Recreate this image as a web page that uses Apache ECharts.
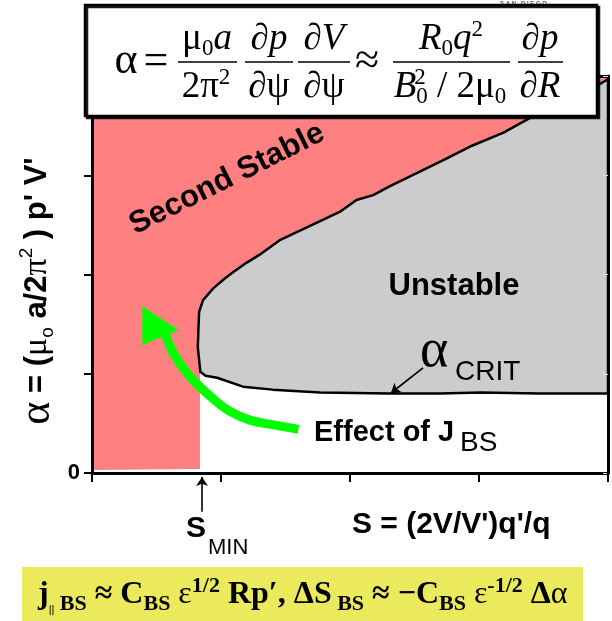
<!DOCTYPE html>
<html><head><meta charset="utf-8">
<script src="https://cdn.jsdelivr.net/npm/echarts@6/dist/echarts.min.js"></script>
<style>html,body{margin:0;padding:0;background:#fff}#c{width:612px;height:621px}</style>
</head><body><div id="c"></div>
<script>
// ---- axis ticks ----
const sTicks = [0, 1, 2, 3, 4];
const alphaTickLabels = ['0', '', '', '', ''];
// ---- Unstable region: lower edge (alpha_crit), right -> left ----
const critS = [4.00, 3.47, 3.01, 2.70, 2.31, 1.77, 1.40, 1.17, 0.97, 0.88, 0.84];
const critA = [0.80, 0.80, 0.81, 0.80, 0.80, 0.81, 0.84, 0.87, 0.96, 0.98, 1.02];
// ---- Unstable region: left / upper boundary, bottom -> top ----
const bndS = [0.82, 0.83, 0.86, 0.94, 1.02, 1.09, 1.20, 1.30, 1.46, 1.69, 1.92, 2.05, 2.18, 2.31, 2.72, 2.95, 3.19, 3.40, 3.63, 3.86, 3.99, 4.00];
const bndA = [1.27, 1.62, 1.74, 1.86, 1.95, 2.02, 2.12, 2.20, 2.35, 2.49, 2.63, 2.75, 2.80, 2.89, 3.15, 3.30, 3.43, 3.58, 3.73, 3.86, 3.96, 3.97];
// ---- Second stable region: lower rectangle corners and top corners ----
const stableLowS = [0.016, 0.837, 0.837];
const stableLowA = [0.03, 0.04, 1.02];
const stableTopS = [4.00, 0.016];
const stableTopA = [4.00, 4.00];
// ---- Effect of J_BS arrow ----
const jbsS = [1.60, 1.43, 1.23, 1.07, 0.92, 0.76, 0.63, 0.57];
const jbsA = [0.44, 0.48, 0.53, 0.62, 0.77, 0.97, 1.21, 1.40];
const headS = [0.39, 0.67, 0.39];
const headA = [1.68, 1.44, 1.29];
// ---- pointer arrows ----
const critArrowS = [2.566, 2.318];
const critArrowA = [1.058, 0.806];
const sminArrowS = [0.853, 0.853];
const sminArrowA = [-0.39, -0.04];

const zip = (a, b) => a.map((v, i) => [v, b[i]]);
const unstablePoly = zip(critS, critA).concat(zip(bndS, bndA));
const stablePoly = zip(stableLowS, stableLowA).concat(zip(bndS, bndA)).concat(zip(stableTopS, stableTopA));

function polySeries(points, style, z) {
  return {
    type: 'custom', z: z, silent: true, clip: false,
    data: [[0, 0]],
    renderItem: (params, api) => ({
      type: 'polygon',
      shape: { points: points.map(p => api.coord(p)) },
      style: style
    })
  };
}

const SANS = '"Liberation Sans", Arial, sans-serif';
const SERIF = '"Liberation Serif", "Times New Roman", serif';

const chart = echarts.init(document.getElementById('c'), null, { renderer: 'canvas' });

const axisLine = { show: true, onZero: false, lineStyle: { color: '#000', width: 3 } };
const eqRich = {
  n: { fontFamily: SERIF, fontSize: 37, lineHeight: 42, verticalAlign: 'middle', fill: '#000' },
  i: { fontFamily: SERIF, fontStyle: 'italic', fontSize: 37, lineHeight: 42, verticalAlign: 'middle', fill: '#000' },
  big: { fontFamily: SERIF, fontSize: 44, lineHeight: 42, verticalAlign: 'middle', fill: '#000' },
  sub: { fontFamily: SERIF, fontSize: 23, lineHeight: 21, verticalAlign: 'bottom', fill: '#000' },
  sup: { fontFamily: SERIF, fontSize: 23, lineHeight: 23, verticalAlign: 'top', fill: '#000' }
};
function eqText(cx, cy, text) {
  return { type: 'text', z: 101, x: cx, y: cy, silent: true,
    style: { text: text, align: 'center', verticalAlign: 'middle', rich: eqRich } };
}
function bar(x1, x2, y) {
  return { type: 'line', z: 101, silent: true, shape: { x1: x1, y1: y, x2: x2, y2: y }, style: { stroke: '#000', lineWidth: 1.6 } };
}
function txt(x, y, text, font, align, extra) {
  return Object.assign({ type: 'text', z: 101, x: x, y: y, silent: true,
    style: { text: text, font: font, fill: '#000', align: align || 'left', verticalAlign: 'middle' } }, extra || {});
}

const option = {
  animation: false,
  backgroundColor: '#fff',
  grid: { left: 92, right: 4, top: 76, bottom: 148, containLabel: false },
  xAxis: [
    { type: 'value', min: sTicks[0], max: sTicks[sTicks.length - 1], interval: 1, position: 'bottom', z: 10,
      axisLine: axisLine, axisTick: { show: true, length: 9, lineStyle: { color: '#000', width: 2 } },
      axisLabel: { show: false }, splitLine: { show: false } },
    { type: 'value', min: 0, max: 4, interval: 1, position: 'top', z: 10,
      axisLine: axisLine, axisTick: { show: false }, axisLabel: { show: false }, splitLine: { show: false } }
  ],
  yAxis: [
    { type: 'value', min: 0, max: 4, interval: 1, position: 'left', z: 10,
      axisLine: axisLine, axisTick: { show: true, length: 8, lineStyle: { color: '#000', width: 2 } },
      axisLabel: { formatter: v => alphaTickLabels[Math.round(v)] || '', color: '#000', fontWeight: 'bold', fontSize: 22, fontFamily: SANS, margin: 12 },
      splitLine: { show: false } },
    { type: 'value', min: 0, max: 4, interval: 1, position: 'right', z: 10,
      axisLine: axisLine, axisTick: { show: true, inside: true, length: 5, lineStyle: { color: '#e4e4e4', width: 1 } },
      axisLabel: { show: false }, splitLine: { show: false } }
  ],
  series: [
    polySeries(stablePoly, { fill: '#FF8080' }, 1),
    polySeries(unstablePoly, { fill: '#CCCCCC', stroke: '#000', lineWidth: 2.5, lineJoin: 'round' }, 2),
    { type: 'line', z: 3, silent: true, data: zip(jbsS, jbsA), smooth: 0.4, symbol: 'none',
      lineStyle: { color: '#00FF00', width: 9 } },
    polySeries(zip(headS, headA), { fill: '#00FF00' }, 3),
    { type: 'lines', coordinateSystem: 'cartesian2d', z: 4, silent: true, clip: false,
      symbol: ['none', 'arrow'], symbolSize: 9,
      lineStyle: { color: '#000', width: 1.6, opacity: 1 },
      data: [ { coords: zip(critArrowS, critArrowA) }, { coords: zip(sminArrowS, sminArrowA) } ] }
  ],
  graphic: [
    { type: 'text', z: 1, x: 500, y: 3, silent: true, style: { text: 'S A N   D I E G O', font: 'bold 6px ' + SANS, fill: '#555', align: 'left', verticalAlign: 'middle' } },
    // equation box
    { type: 'rect', z: 100, silent: true, shape: { x: 85, y: 5, width: 512, height: 111 },
      style: { fill: '#fff', stroke: '#000', lineWidth: 2.5, shadowColor: 'rgba(0,0,0,0.9)', shadowOffsetX: 2, shadowOffsetY: 2, shadowBlur: 0 } },
    eqText(126, 61, '{big|α}'),
    eqText(156, 62, '{big|=}'),
    eqText(207, 39, '{n|μ}{sub|0}{i|a}'),
    bar(178, 237, 62),
    eqText(206, 87, '{n|2π}{sup|2}'),
    eqText(269, 39, '{n|∂}{i|p}'),
    bar(245, 293, 62),
    eqText(269, 87, '{n|∂ψ}'),
    eqText(324, 39, '{n|∂}{i|V}'),
    bar(298, 350, 62),
    eqText(324, 87, '{n|∂ψ}'),
    eqText(367, 62, '{big|≈}'),
    eqText(451, 39, '{i|R}{sub|0}{i|q}{sup|2}'),
    bar(393, 510, 62),
    eqText(450, 87, '{i|B}{sub|0}{n| / 2μ}{sub|0}'),
    { type: 'text', z: 101, x: 420, y: 78, silent: true, style: { text: '2', font: '23px ' + SERIF, fill: '#000', align: 'center', verticalAlign: 'middle' } },
    eqText(540, 39, '{n|∂}{i|p}'),
    bar(518, 563, 62),
    eqText(540, 87, '{n|∂}{i|R}'),
    // y-axis name
    { type: 'text', z: 101, x: 37, y: 291, rotation: Math.PI / 2, silent: true,
      style: { text: '{g|α}{b| = (}{m|μ}{s|o}{b| a/2}{m|π}{p|2}{b| ) p\' V\'}', align: 'center', verticalAlign: 'middle',
        rich: {
          g: { fontFamily: SERIF, fontSize: 44, lineHeight: 40, verticalAlign: 'middle', fill: '#000' },
          b: { fontFamily: SANS, fontWeight: 'bold', fontSize: 31, lineHeight: 40, verticalAlign: 'middle', fill: '#000' },
          m: { fontFamily: SERIF, fontSize: 34, lineHeight: 40, verticalAlign: 'middle', fill: '#000' },
          s: { fontFamily: SANS, fontSize: 19, lineHeight: 19, verticalAlign: 'bottom', fill: '#000' },
          p: { fontFamily: SANS, fontSize: 19, lineHeight: 22, verticalAlign: 'top', fill: '#000' }
        } } },
    // region labels
    txt(227, 179, 'Second Stable', 'bold 31px ' + SANS, 'center', { rotation: 0.464 }),
    txt(454, 286, 'Unstable', 'bold 31px ' + SANS, 'center'),
    txt(420, 352, 'α', '54px ' + SERIF),
    txt(455, 372, 'CRIT', '28px ' + SANS),
    txt(314, 433, 'Effect of J', 'bold 29px ' + SANS),
    txt(460, 443, 'BS', '28px ' + SANS),
    txt(352, 525, 'S = (2V/V\')q\'/q', 'bold 30px ' + SANS),
    txt(186, 529, 'S', 'bold 30px ' + SANS),
    txt(208, 548, 'MIN', '22px ' + SANS),
    // yellow box
    { type: 'rect', z: 100, silent: true, shape: { x: 22, y: 567, width: 561, height: 60 }, style: { fill: '#EAEA5C' } },
    { type: 'text', z: 101, x: 38, y: 595, silent: true,
      style: { text: '{b|j}{t|||}{s| BS}{b| ≈ C}{s|BS}{g| ε}{p|1/2}{b| Rp′, ΔS}{s| BS}{b| ≈ −C}{s|BS}{g| ε}{p|-1/2}{b| Δ}{g|α}',
        align: 'left', verticalAlign: 'middle',
        rich: {
          b: { fontFamily: SERIF, fontWeight: 'bold', fontSize: 32, lineHeight: 40, verticalAlign: 'middle', fill: '#000' },
          g: { fontFamily: SERIF, fontSize: 32, lineHeight: 40, verticalAlign: 'middle', fill: '#000' },
          s: { fontFamily: SERIF, fontWeight: 'bold', fontSize: 22, lineHeight: 20, verticalAlign: 'bottom', fill: '#000' },
          p: { fontFamily: SERIF, fontWeight: 'bold', fontSize: 22, lineHeight: 22, verticalAlign: 'top', fill: '#000' },
          t: { fontFamily: SANS, fontSize: 11, lineHeight: 20, verticalAlign: 'bottom', fill: '#000' }
        } } }
  ]
};
chart.setOption(option);
</script></body></html>
